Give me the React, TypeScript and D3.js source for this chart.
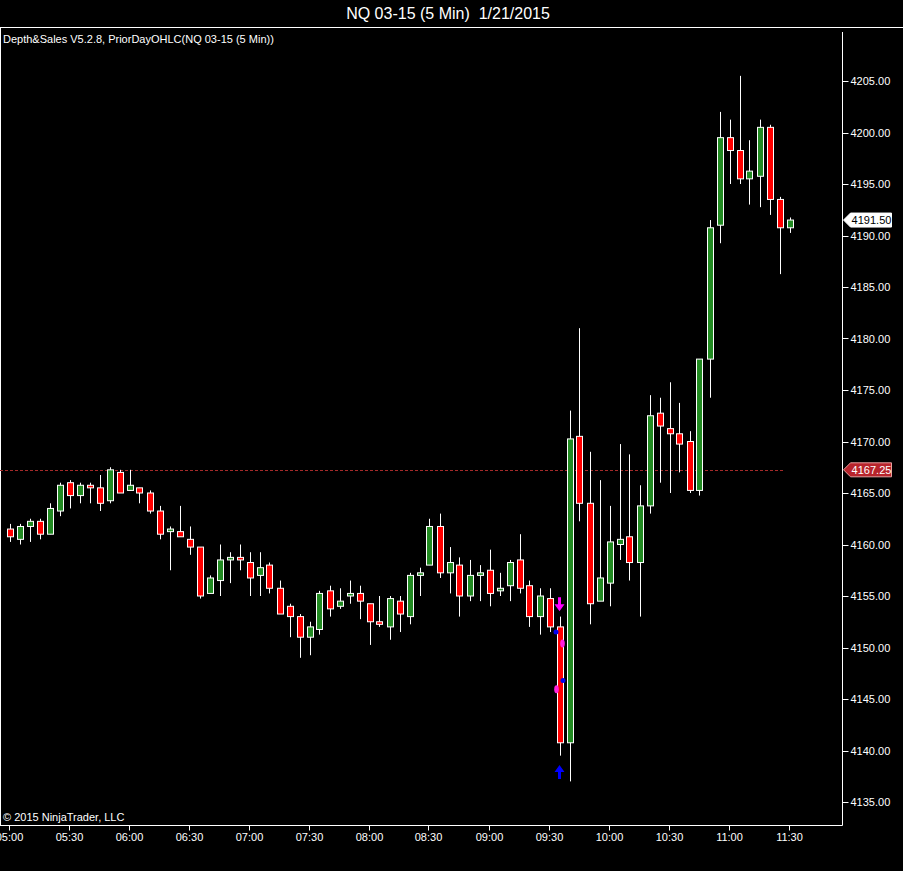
import * as d3 from "d3";

// NQ 03-15, 5 min bars from 05:00 to 11:30
const opens = [
  4161.5, 4160.5, 4161.75, 4162.25, 4161, 4163.25, 4166, 4164.75, 4165.75, 4165.5,
  4164.25, 4167, 4165.25, 4165.5, 4165, 4163.25, 4161.25, 4161.25, 4160.5, 4159.75,
  4155.25, 4156.5, 4158.5, 4158.75, 4158.25, 4157, 4158, 4155.75, 4154, 4153,
  4151, 4151.75, 4155.5, 4154, 4155, 4155.25, 4154.25, 4152.5, 4152, 4154.5,
  4153, 4157, 4158, 4161.75, 4157.25, 4158, 4155, 4157, 4157.5, 4155.5,
  4156, 4158.5, 4156, 4153, 4154.75, 4152, 4140.75, 4170.5, 4164, 4154.5,
  4156.25, 4160, 4160.75, 4158.25, 4163.75, 4172.75, 4171.25, 4170.75, 4170, 4165.25,
  4178, 4191, 4199.5, 4198.25, 4195.5, 4195.75, 4200.5, 4193.5, 4190.75,
];
const highs = [
  4162, 4162, 4162.5, 4162.5, 4164, 4166, 4166.25, 4166, 4166, 4166.75,
  4167.5, 4167.25, 4167.25, 4165.5, 4165.25, 4163.75, 4161.75, 4163.75, 4161.75, 4159.75,
  4157, 4160, 4159.25, 4160, 4159.25, 4159.25, 4158.25, 4156.5, 4154.25, 4153.25,
  4152.5, 4155.5, 4156, 4155.75, 4156.5, 4156, 4154.25, 4155, 4155, 4155,
  4157.25, 4157.75, 4162.5, 4163, 4159.75, 4158.75, 4158.5, 4158, 4159.5, 4157.25,
  4158.5, 4161, 4156.5, 4155.75, 4155.75, 4153, 4173, 4181, 4169, 4166.25,
  4163.75, 4169.75, 4168.75, 4165.75, 4174.5, 4174.25, 4175.75, 4173.75, 4171, 4178,
  4191.5, 4202, 4201.25, 4205.5, 4199.25, 4201.25, 4200.75, 4193.75, 4191.75,
];
const lows = [
  4160.25, 4160, 4160.25, 4160.5, 4161, 4162.75, 4163.5, 4164, 4164, 4163.25,
  4164, 4165, 4165.25, 4164, 4163, 4160.5, 4157.5, 4160.75, 4159, 4154.75,
  4155.25, 4155, 4156.25, 4157.5, 4155, 4155, 4155.25, 4153.25, 4151, 4149,
  4149.25, 4151.25, 4153, 4153.75, 4154.25, 4152.75, 4150.25, 4152, 4150.75, 4151.5,
  4152.25, 4155, 4158, 4156.75, 4155.25, 4153, 4154.5, 4154.5, 4154, 4155,
  4154.5, 4155.25, 4152, 4151.25, 4151.5, 4139.5, 4137, 4162.25, 4152.25, 4154.5,
  4154, 4158.5, 4156.5, 4153, 4163, 4166, 4165, 4167, 4165, 4164.75,
  4174.25, 4189.25, 4195, 4195, 4193, 4192.75, 4192, 4186.25, 4190.25,
];
const closes = [
  4160.75, 4161.75, 4162.25, 4161, 4163.5, 4165.75, 4164.75, 4165.75, 4165.5, 4164,
  4167.25, 4165, 4165.75, 4165, 4163.25, 4161, 4161.5, 4160.75, 4159.75, 4155,
  4156.75, 4158.5, 4158.75, 4158.5, 4156.75, 4157.75, 4155.75, 4153.25, 4153, 4151,
  4152, 4155.25, 4153.75, 4154.5, 4155.25, 4154.5, 4152.5, 4152.25, 4154.75, 4153.25,
  4157, 4157.25, 4161.75, 4157.25, 4158.25, 4155, 4157, 4157.25, 4155.25, 4155.75,
  4158.25, 4155.75, 4153, 4155, 4152, 4140.75, 4170.25, 4164, 4154.25, 4156.75,
  4160.25, 4160.5, 4158.25, 4163.75, 4172.5, 4171.5, 4170.75, 4169.75, 4165.25, 4178,
  4190.75, 4199.5, 4198.25, 4195.5, 4196.25, 4200.5, 4193.5, 4190.75, 4191.5,
];

const timeLabels = ["05:00", "05:30", "06:00", "06:30", "07:00", "07:30", "08:00",
  "08:30", "09:00", "09:30", "10:00", "10:30", "11:00", "11:30"];
const priceTicks = d3.range(4135, 4205.01, 5);

const priorDayLevel = 4167.25;
const lastPrice = 4191.5;

// Depth&Sales signal marks at the 09:35 bar
const arrowsDown = [{ bar: 55, price: 4154.1 }];
const arrowsUp = [{ bar: 55, price: 4138.0 }];
const blueDots = [{ bar: 55, price: 4151.5, side: -1 }, { bar: 55, price: 4146.8, side: 1 }];
const pinkDots = [{ bar: 55, price: 4150.4, side: 1 }, { bar: 55, price: 4145.95, side: -1 }];

const W = 903;
const H = 871;
const axisX = 842.5;
const baseY = 825.5;
const font = "'Liberation Sans', Arial, sans-serif";
const narrow = "'Liberation Sans Narrow', 'Liberation Sans', Arial, sans-serif";

export default function App() {
  const x = d3.scaleLinear().domain([0, 78]).range([9.5, 789.5]);
  const y = d3.scaleLinear().domain([4135, 4205]).range([802, 81]);
  const bars = opens.map((o, i) => ({ o, h: highs[i], l: lows[i], c: closes[i], i }));

  const tag = (py, label, fill, textFill, stroke) => {
    const yy = y(py);
    const pts = [
      [axisX + 1, yy],
      [axisX + 8, yy - 7],
      [axisX + 49, yy - 7],
      [axisX + 49, yy + 7],
      [axisX + 8, yy + 7],
    ];
    return (
      <g>
        <polygon points={pts.map((p) => p.join(",")).join(" ")} fill={fill} stroke={stroke} strokeWidth={1} />
        <text x={axisX + 29} y={yy + 4} textAnchor="middle" fill={textFill} fontSize={11} fontFamily={font}>
          {label}
        </text>
      </g>
    );
  };

  return (
    <>
      <style>{`body{margin:0;background:#000}`}</style>
      <svg width={W} height={H} style={{ display: "block", background: "#000" }}>
        <rect width={W} height={H} fill="#000" />
        <text x={448} y={19} textAnchor="middle" fill="#fff" fontSize={16} fontFamily={font}
          style={{ whiteSpace: "pre" }}>
          {"NQ 03-15 (5 Min)  1/21/2015"}
        </text>
        <line x1={0} x2={W} y1={27.5} y2={27.5} stroke="#fff" />
        <line x1={0.5} x2={0.5} y1={27.5} y2={baseY} stroke="#fff" />
        <text x={3} y={43} fill="#fff" fontSize={11} fontFamily={font}>
          Depth&amp;Sales V5.2.8, PriorDayOHLC(NQ 03-15 (5 Min))
        </text>

        {/* prior day level */}
        <line x1={0} x2={783} y1={Math.round(y(priorDayLevel)) + 0.5} y2={Math.round(y(priorDayLevel)) + 0.5}
          stroke="#a52a2a" strokeDasharray="3,2" />

        {/* candles */}
        {bars.map((b) => {
          const cx = Math.round(x(b.i)) + 0.5;
          const up = b.c >= b.o;
          const top = y(Math.max(b.o, b.c));
          const bot = y(Math.min(b.o, b.c));
          return (
            <g key={b.i}>
              <line x1={cx} x2={cx} y1={y(b.h)} y2={y(b.l)} stroke="#fff" />
              <rect x={cx - 3} y={top} width={6} height={Math.max(bot - top, 1.5)}
                fill={up ? "#228b22" : "#ff0000"} stroke="#fff" strokeWidth={1} />
            </g>
          );
        })}

        {/* signal marks */}
        {arrowsDown.map((a, k) => {
          const cx = x(a.bar);
          const yy = y(a.price);
          return (
            <path key={"ad" + k} fill="#ff00ff"
              d={`M${cx - 1.5},${yy - 8} h3 v7 h3.5 l-5,7 l-5,-7 h3.5 z`} />
          );
        })}
        {arrowsUp.map((a, k) => {
          const cx = x(a.bar);
          const yy = y(a.price);
          return (
            <path key={"au" + k} fill="#0000ff"
              d={`M${cx - 1.5},${yy + 8} h3 v-7 h3.5 l-5,-7 l-5,7 h3.5 z`} />
          );
        })}
        {blueDots.map((d, k) => (
          <circle key={"bd" + k} cx={x(d.bar) + d.side * 3.5} cy={y(d.price)} r={2.5} fill="#0000ee" />
        ))}
        {pinkDots.map((d, k) => (
          <ellipse key={"pd" + k} cx={x(d.bar) + d.side * 3} cy={y(d.price)} rx={2.3} ry={4} fill="#ff22dd" />
        ))}

        <text x={3} y={821} fill="#fff" fontSize={11} fontFamily={font}>
          © 2015 NinjaTrader, LLC
        </text>

        {/* right price axis */}
        <line x1={axisX} x2={axisX} y1={32} y2={baseY} stroke="#fff" />
        {priceTicks.map((p) => (
          <g key={p}>
            <line x1={axisX} x2={axisX + 6} y1={Math.round(y(p)) + 0.5} y2={Math.round(y(p)) + 0.5} stroke="#fff" />
            <text x={axisX + 8} y={y(p) + 4} fill="#fff" fontSize={11} fontFamily={font}>
              {d3.format(".2f")(p)}
            </text>
          </g>
        ))}
        {tag(lastPrice, d3.format(".2f")(lastPrice), "#fff", "#000", "#fff")}
        {tag(priorDayLevel, d3.format(".2f")(priorDayLevel), "#b8242c", "#fff", "#e8a0a0")}

        {/* time axis */}
        <line x1={0} x2={axisX} y1={baseY} y2={baseY} stroke="#fff" />
        {timeLabels.map((t, k) => {
          const tx = Math.round(x(k * 6)) - 0.5;
          return (
            <g key={t}>
              <line x1={tx} x2={tx} y1={baseY} y2={baseY + 5} stroke="#fff" />
              <text x={tx} y={841} textAnchor="middle" fill="#fff" fontSize={11} fontFamily={narrow}>
                {t}
              </text>
            </g>
          );
        })}
      </svg>
    </>
  );
}
